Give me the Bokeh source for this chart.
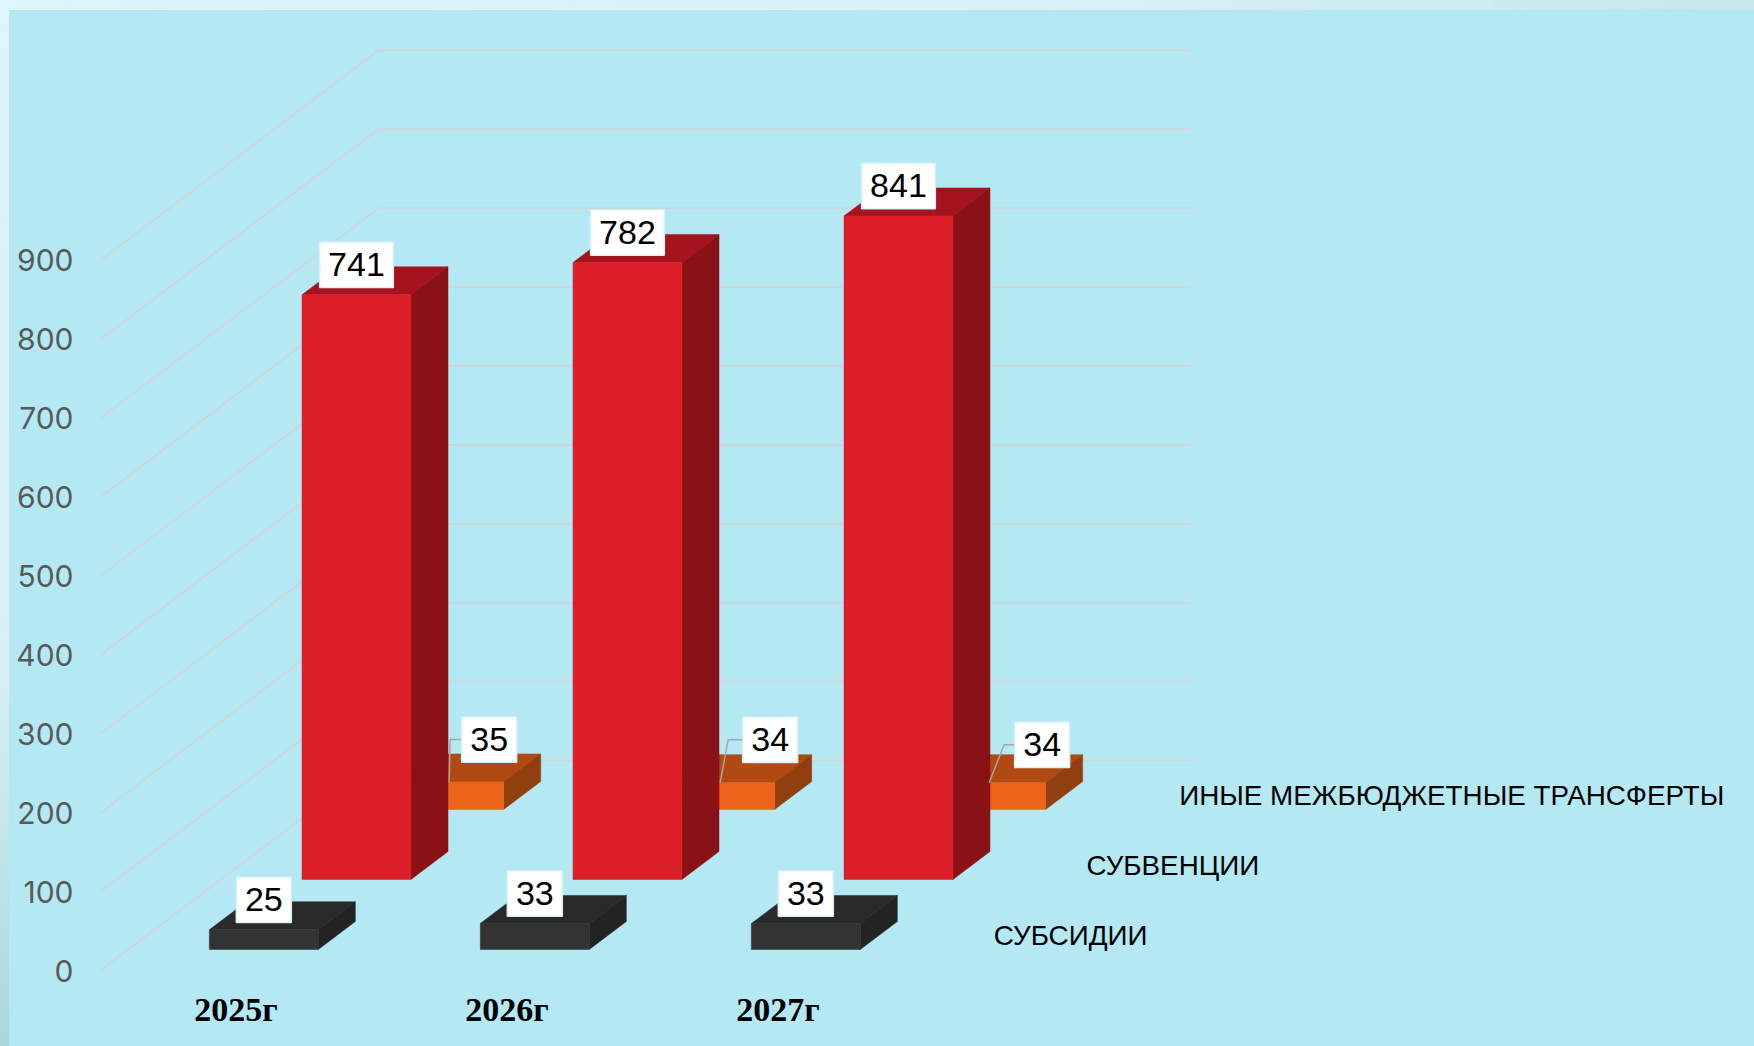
from bokeh.plotting import figure
from bokeh.models import FixedTicker, Range1d, InlineStyleSheet
from bokeh.core.properties import value
from bokeh.embed import file_html
from bokeh.resources import INLINE

# ---- data ----
years = ["2025г", "2026г", "2027г"]
series_names = ["СУБСИДИИ", "СУБВЕНЦИИ", "ИНЫЕ МЕЖБЮДЖЕТНЫЕ ТРАНСФЕРТЫ"]
subsidies = [25, 33, 33]
subventions = [741, 782, 841]
other_transfers = [35, 34, 34]
value_ticks = [0, 100, 200, 300, 400, 500, 600, 700, 800, 900]

# ---- 3D look: scales and projection ----
PX_PER_CAT = 271.0
PX_PER_VAL = 0.789
DEPTH_X = 92.67 / PX_PER_CAT     # category units per series row
DEPTH_Y = 70.0 / PX_PER_VAL      # value units per series row
BAR_W = 0.402
BAR_D = 0.4
N_CATS = len(years)
N_ROWS = len(series_names)
dx = 1 / PX_PER_CAT
dy = 1 / PX_PER_VAL

BG = "#B4E9F4"
GRID = "#CDD8DB"
COLORS = [("#333333", "#2A2A2A", "#232323"),
          ("#DC1E28", "#A5141E", "#8A1216"),
          ("#EC641A", "#B04A12", "#923F0F")]

def proj(x, v, z):
    return x + z * DEPTH_X, v + z * DEPTH_Y

# the slide: flat panel with a pale frame on its top and left edges
slide_css = InlineStyleSheet(css=f"""
:host {{
  background:
    linear-gradient({BG}, {BG}) 9px 10px / calc(100% - 9px) calc(100% - 10px) no-repeat,
    linear-gradient(to right, #DDF5FB 0%, #D8F2F8 60%, #C6E6ED 100%) 0 0 / 100% 10px no-repeat,
    linear-gradient(to bottom, #DDF5FB 0%, #D5F0F6 65%, #ABD6DF 100%) 0 0 / 9px 100% no-repeat;
}}
""")

W, H = 1754, 1046
LEFT, BOTTOM = 82, 70
p = figure(width=W, height=H, output_backend="svg", toolbar_location=None,
           min_border_left=LEFT, min_border_bottom=BOTTOM, min_border_top=0, min_border_right=0,
           frame_width=W - LEFT, frame_height=H - BOTTOM,
           x_range=Range1d(-18 * dx, (W - LEFT - 18) * dx),
           y_range=Range1d(-6 * dy, (H - BOTTOM - 6) * dy),
           background_fill_color=None, border_fill_color=None, outline_line_color=None,
           stylesheets=[slide_css])
p.grid.visible = False

# axes
p.yaxis.ticker = FixedTicker(ticks=value_ticks)
p.yaxis.axis_line_color = None
p.yaxis.major_tick_line_color = None
p.yaxis.minor_tick_line_color = None
p.yaxis.major_label_standoff = 3
p.yaxis.major_label_text_color = "#595959"
p.yaxis.major_label_text_font = "Inter"
p.yaxis.major_label_text_font_size = "30px"
p.yaxis.major_label_text_font_style = "normal"

cat_pos = [i + 0.5 for i in range(N_CATS)]
p.xaxis.ticker = FixedTicker(ticks=cat_pos)
p.xaxis.major_label_overrides = {c: y for c, y in zip(cat_pos, years)}
p.xaxis.axis_line_color = None
p.xaxis.major_tick_line_color = None
p.xaxis.minor_tick_line_color = None
p.xaxis.major_label_standoff = 8
p.xaxis.major_label_text_color = "#000000"
p.xaxis.major_label_text_font = "Liberation Serif"
p.xaxis.major_label_text_font_style = "bold"
p.xaxis.major_label_text_font_size = "34px"

# gridlines: side wall and back wall
xs, ys = [], []
for t in value_ticks:
    x1, y1 = proj(0, t, 0)
    x2, y2 = proj(0, t, N_ROWS)
    x3, y3 = proj(N_CATS, t, N_ROWS)
    xs.append([x1, x2, x3])
    ys.append([y1, y2, y3])
p.multi_line(xs, ys, line_color=GRID, line_width=2)

# bars, back row first
rows = [subsidies, subventions, other_transfers]
for r in [2, 1, 0]:
    front_c, top_c, side_c = COLORS[r]
    z0 = r + 0.3
    z1 = z0 + BAR_D
    for i, val in enumerate(rows[r]):
        x0 = i + 0.5 - BAR_W / 2
        x1 = i + 0.5 + BAR_W / 2
        front = [proj(x0, 0, z0), proj(x1, 0, z0), proj(x1, val, z0), proj(x0, val, z0)]
        top = [proj(x0, val, z0), proj(x1, val, z0), proj(x1, val, z1), proj(x0, val, z1)]
        side = [proj(x1, 0, z0), proj(x1, 0, z1), proj(x1, val, z1), proj(x1, val, z0)]
        for face, c in ((top, top_c), (side, side_c), (front, front_c)):
            p.patch([q[0] for q in face], [q[1] for q in face],
                    fill_color=c, line_color=c, line_width=0.5)

# leader lines and label offsets of the back row (screen px from the front top centre)
leader_start = [0, 0, -2]
leader_mid = [1, 8, 13]
leader_end = [12, 23, 24]
orange_dx = [40, 50, 51]
orange_dy = [42.5, 43, 38]
for i, val in enumerate(other_transfers):
    bx, by = proj(i + 0.5, val, 2.3)
    ly = by + orange_dy[i] * dy
    p.line([bx + leader_start[i] * dx, bx + leader_mid[i] * dx, bx + leader_end[i] * dx],
           [by, ly, ly], line_color="#A6A6A6", line_width=1.5)

# data labels
for r in range(N_ROWS):
    for i, val in enumerate(rows[r]):
        bx, by = proj(i + 0.5, val, r + 0.3)
        if r == 2:
            cx, cy = bx + orange_dx[i] * dx, by + orange_dy[i] * dy
        else:
            cx, cy = bx, by + 30 * dy
        wpx = 73.7 if val >= 100 else 55
        p.rect([cx], [cy], width=wpx * dx, height=45.5 * dy, fill_color="#FFFFFF",
               line_color="#D6F1F7", line_width=1.5)
        p.text([cx], [cy], text=[str(val)], text_align="center", text_baseline="middle",
               text_font=value("Liberation Sans"), text_font_size="34px", text_color="#000000")

# series names along the depth axis
for r, name in enumerate(series_names):
    x, y = proj(N_CATS, 0, r + 0.5)
    p.text([x + 34 * dx], [y], text=[name], text_align="left", text_baseline="middle",
           text_font=value("Liberation Sans"), text_font_size="27.8px", text_color="#000000")

open("out.html", "w").write(file_html(p, INLINE))
